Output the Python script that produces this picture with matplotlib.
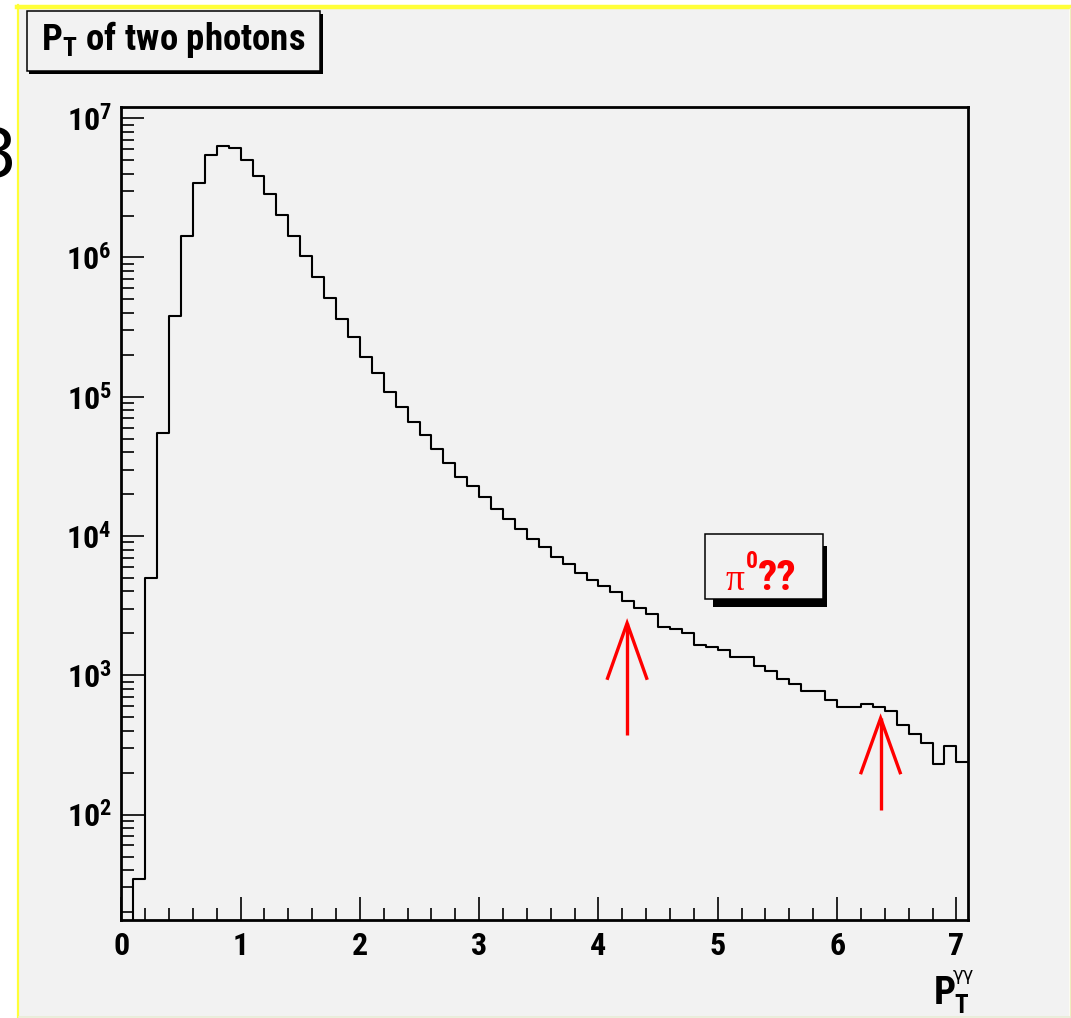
import matplotlib
matplotlib.use("Agg")
import matplotlib.pyplot as plt
from matplotlib import font_manager
from matplotlib.patches import Rectangle
from matplotlib.lines import Line2D
from matplotlib.ticker import FixedLocator, LogLocator, NullFormatter
import numpy as np

# histogram of pT of two photons, 71 bins of 0.1 from 0 to 7.1
x_min = 0.0
x_max = 7.1
counts = [0, 34.5, 4.98e3, 5.5e4, 3.8e5, 1.43e6, 3.44e6, 5.45e6, 6.35e6, 6.14e6,
          5.01e6, 3.87e6, 2.85e6, 2.02e6, 1.43e6, 1.02e6, 7.3e5, 5.1e5, 3.64e5, 2.7e5,
          1.92e5, 1.47e5, 1.09e5, 8.4e4, 6.6e4, 5.3e4, 4.2e4, 3.37e4, 2.67e4, 2.29e4,
          1.9e4, 1.57e4, 1.33e4, 1.12e4, 9.6e3, 8.3e3, 7.1e3, 6.3e3, 5.4e3, 4.84e3,
          4.38e3, 3.99e3, 3.44e3, 3.03e3, 2.75e3, 2.24e3, 2.15e3, 2.0e3, 1.65e3, 1.59e3,
          1.52e3, 1.36e3, 1.36e3, 1.17e3, 1.08e3, 938, 867, 776, 776, 666,
          596, 596, 620, 596, 555, 440, 378, 326, 231, 313,
          240]
y_lim = (17.5, 1.21e7)
x_ticks = [0, 1, 2, 3, 4, 5, 6, 7]
y_ticks = [1e2, 1e3, 1e4, 1e5, 1e6, 1e7]
y_ticklabels = [r"$\mathbf{10^{%d}}$" % e for e in range(2, 8)]

# red arrows: x position, tip, tail, wing height
arrow_x = [4.24, 6.365]
arrow_tip = [2370, 492]
arrow_tail = [373, 108]
arrow_wing = [953, 200]
wing_dx = 0.164

W, H = 1071, 1018

# narrow bold font like ROOT's helvetica, if there is one
names = {f.name for f in font_manager.fontManager.ttflist}
FONT = 'Liberation Sans'
sc = 0.85
for cand in ['Roboto Condensed', 'Archivo Narrow', 'Liberation Sans Narrow', 'PT Sans Narrow',
             'Arimo']:
    if cand in names:
        FONT = cand
        sc = 0.85 if cand == 'Arimo' else 1.0
        break
plt.rcParams['font.family'] = [FONT, 'DejaVu Sans']
plt.rcParams['font.weight'] = 'bold'
plt.rcParams['mathtext.fontset'] = 'custom'
plt.rcParams['mathtext.rm'] = FONT + ':bold'
plt.rcParams['mathtext.bf'] = FONT + ':bold'
plt.rcParams['mathtext.it'] = FONT + ':bold'


def fx(px):
    return px / W


def fy(py):
    return 1 - py / H


fig = plt.figure(figsize=(W / 100, H / 100), dpi=100, facecolor='white')

# pad background with yellow frame
fig.patches.append(Rectangle((fx(19), fy(1016.5)), fx(1069) - fx(19), fy(9) - fy(1016.5),
                             transform=fig.transFigure, facecolor='#f2f2f2',
                             edgecolor='none', zorder=-3))
fig.lines.append(Line2D([fx(17), fx(1071)], [fy(7), fy(7)], transform=fig.transFigure,
                        color='#ffff38', lw=3.2, zorder=-2))
fig.lines.append(Line2D([fx(18), fx(18)], [fy(5), fy(1018)], transform=fig.transFigure,
                        color='#ffff38', lw=1.6, zorder=-2))
fig.lines.append(Line2D([fx(1069.5), fx(1069.5)], [fy(8), fy(1017)], transform=fig.transFigure,
                        color='#eeeebb', lw=1.0, zorder=-2))
fig.lines.append(Line2D([fx(19), fx(1070)], [fy(1017), fy(1017)], transform=fig.transFigure,
                        color='#e8ecd6', lw=1.2, zorder=-2))

# cut off slide number at the left
fig.text(fx(17), fy(158), "3", fontsize=48, fontweight='normal', family='DejaVu Sans',
         ha='right', va='center', color='black')

ax = fig.add_axes([fx(121.3), fy(920), fx(968.3) - fx(121.3), fy(106.7) - fy(920)])
ax.set_facecolor('#f2f2f2')

edges = np.linspace(x_min, x_max, len(counts) + 1)
ax.step(edges, list(counts) + [counts[-1]], where='post', color='black', lw=1.5)
ax.set_yscale('log')
ax.set_xlim(x_min, x_max)
ax.set_ylim(*y_lim)

for side in ['left', 'bottom', 'top', 'right']:
    ax.spines[side].set_linewidth(2.0)
    ax.spines[side].set_color('black')

ax.xaxis.set_major_locator(FixedLocator(x_ticks))
ax.xaxis.set_minor_locator(FixedLocator(np.arange(0.2, 7.1, 0.2)))
ax.set_xticklabels([str(t) for t in x_ticks])
ax.yaxis.set_major_locator(FixedLocator(y_ticks))
ax.set_yticklabels(y_ticklabels)
ax.yaxis.set_minor_locator(LogLocator(base=10, subs=np.arange(2, 10)))
ax.yaxis.set_minor_formatter(NullFormatter())

ax.tick_params(which='major', direction='in', length=16.5, width=1.2,
               labelsize=23 * sc, top=False, right=False)
ax.tick_params(which='minor', direction='in', length=9, width=1.2,
               top=False, right=False)
ax.tick_params(axis='x', which='major', pad=8)
ax.tick_params(axis='y', which='major', pad=7)
for lab in ax.get_xticklabels() + ax.get_yticklabels():
    lab.set_fontweight('bold')

# arrows
for xa, tip, tail, wing in zip(arrow_x, arrow_tip, arrow_tail, arrow_wing):
    ax.plot([xa, xa], [tail, tip], color='#ff0000', lw=2.4, solid_capstyle='butt', clip_on=False)
    ax.plot([xa - wing_dx, xa, xa + wing_dx], [wing, tip, wing], color='#ff0000', lw=2.4,
            solid_joinstyle='miter', clip_on=False)

# axis title
fig.text(fx(945), fy(1004), "P", fontsize=28 * sc, fontweight='bold', ha='center', va='baseline')
fig.text(fx(961), fy(1013), "T", fontsize=18 * sc, fontweight='bold', ha='center', va='baseline')
fig.text(fx(963), fy(980), "\u03b3\u03b3", fontsize=13 * sc, fontweight='normal',
         family='DejaVu Sans', ha='center', va='baseline')

# title box with shadow
fig.patches.append(Rectangle((fx(29), fy(73.5)), fx(323.5) - fx(29), fy(13.5) - fy(73.5),
                             transform=fig.transFigure, facecolor='black', edgecolor='none', zorder=3))
fig.patches.append(Rectangle((fx(26.5), fy(70.7)), fx(320.5) - fx(26.5), fy(10.7) - fy(70.7),
                             transform=fig.transFigure, facecolor='#f2f2f2', edgecolor='black',
                             lw=1.1, zorder=4))
fig.text(fx(173.5), fy(50), r"$\mathbf{P_{T}}$ of two photons", fontsize=26.5 * sc,
         fontweight='bold', ha='center', va='baseline', zorder=5)

# pi0?? box with shadow
fig.patches.append(Rectangle((fx(713), fy(607)), fx(827) - fx(713), fy(546) - fy(607),
                             transform=fig.transFigure, facecolor='black', edgecolor='none', zorder=3))
fig.patches.append(Rectangle((fx(705), fy(599.3)), fx(823.3) - fx(705), fy(534) - fy(599.3),
                             transform=fig.transFigure, facecolor='#f2f2f2', edgecolor='black',
                             lw=1.1, zorder=4))
fig.text(fx(726), fy(590), "\u03c0", family='Liberation Serif', fontweight='normal',
         fontsize=27, color='#ff0000', ha='left', va='baseline', zorder=5)
fig.text(fx(746), fy(568), "0", fontsize=17 * sc, fontweight='bold',
         color='#ff0000', ha='left', va='baseline', zorder=5)
fig.text(fx(758), fy(590), "??", fontsize=31 * sc, fontweight='bold',
         color='#ff0000', ha='left', va='baseline', zorder=5)

fig.savefig('out.png', dpi=100, facecolor='white')
